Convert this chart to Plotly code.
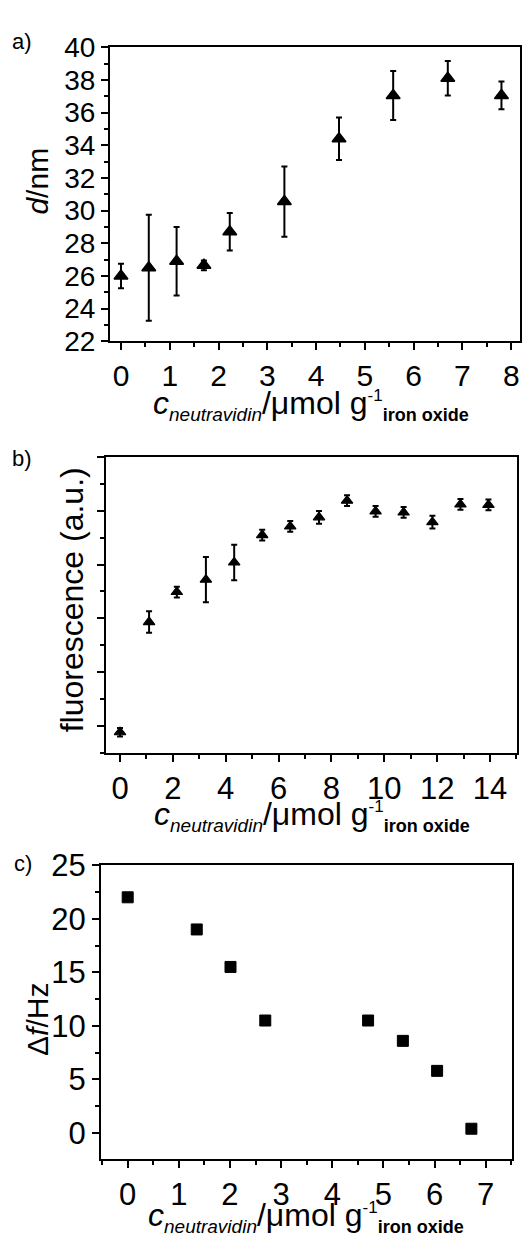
import plotly.graph_objects as go

W, H = 525, 1259
FONT = "Liberation Sans, Arial, Helvetica, sans-serif"

# Panel a: particle diameter
a_x = [0.0, 0.57, 1.14, 1.70, 2.23, 3.35, 4.47, 5.58, 6.70, 7.80]
a_y = [26.0, 26.5, 26.9, 26.65, 28.7, 30.55, 34.4, 37.05, 38.1, 37.05]
a_err = [0.75, 3.25, 2.1, 0.3, 1.15, 2.15, 1.3, 1.5, 1.05, 0.85]

# Panel b: fluorescence (arbitrary units)
b_x = [0.0, 1.1, 2.15, 3.25, 4.32, 5.38, 6.44, 7.53, 8.59, 9.67, 10.73, 11.82, 12.88, 13.94]
b_y = [0.88, 2.93, 3.49, 3.72, 4.04, 4.55, 4.71, 4.88, 5.19, 4.99, 4.97, 4.79, 5.12, 5.11]
b_err = [0.08, 0.2, 0.1, 0.42, 0.33, 0.1, 0.1, 0.12, 0.1, 0.1, 0.1, 0.12, 0.1, 0.1]

# Panel c: QCM frequency shift
c_x = [0.0, 1.35, 2.01, 2.69, 4.70, 5.38, 6.05, 6.72]
c_y = [22.0, 19.0, 15.5, 10.5, 10.5, 8.6, 5.8, 0.4]

a_xticks = [0, 1, 2, 3, 4, 5, 6, 7, 8]
a_yticks = [22, 24, 26, 28, 30, 32, 34, 36, 38, 40]
b_xticks = [0, 2, 4, 6, 8, 10, 12, 14]
b_yticks = [1, 2, 3, 4, 5, 6]
c_xticks = [0, 1, 2, 3, 4, 5, 6, 7]
c_yticks = [0, 5, 10, 15, 20, 25]

XTITLE = ("<i>c</i><sub><span style='font-size:19px'><i>neutravidin</i></span></sub>"
          "/\u03bcmol g<sup><span style='font-size:17px'>-1</span></sup>"
          "<sub><span style='font-size:18px'><b>iron oxide</b></span></sub>")


def px_x(p):
    return p / W


def px_y(p):
    return 1 - p / H


fig = go.Figure()

fig.add_trace(go.Scatter(
    x=a_x, y=a_y, mode="markers", xaxis="x", yaxis="y",
    marker=dict(symbol="triangle-up", size=12, color="black", line=dict(color="black", width=1.5)),
    error_y=dict(type="data", array=a_err, color="black", thickness=2, width=3),
    showlegend=False))

fig.add_trace(go.Scatter(
    x=b_x, y=b_y, mode="markers", xaxis="x2", yaxis="y2",
    marker=dict(symbol="triangle-up", size=10, color="black", line=dict(color="black", width=1.2)),
    error_y=dict(type="data", array=b_err, color="black", thickness=2, width=3),
    showlegend=False))

fig.add_trace(go.Scatter(
    x=c_x, y=c_y, mode="markers", xaxis="x3", yaxis="y3",
    marker=dict(symbol="square", size=11, color="black", line=dict(color="black", width=1)),
    showlegend=False))


def axis(domain, rng, tickvals, minor_dtick, fsize, anchor, showlabels=True):
    return dict(
        domain=domain, range=rng, anchor=anchor,
        tickmode="array", tickvals=tickvals,
        showline=True, mirror=True, linecolor="black", linewidth=2,
        ticks="outside", ticklen=7, tickwidth=2, tickcolor="black",
        showgrid=False, zeroline=False, showticklabels=showlabels,
        tickfont=dict(family=FONT, size=fsize, color="black"),
        minor=dict(ticks="outside", ticklen=4, tickwidth=1.5, tickcolor="black",
                   dtick=minor_dtick, tick0=0, showgrid=False),
    )


fig.update_layout(
    width=W, height=H, margin=dict(l=0, r=0, t=0, b=0),
    paper_bgcolor="white", plot_bgcolor="white",
    font=dict(family=FONT, color="black"),
    xaxis=axis([px_x(110), px_x(520)], [-0.225, 8.18], a_xticks, 0.5, 30, "y"),
    yaxis=axis([px_y(333), px_y(31)], [22, 40], a_yticks, 1, 28, "x"),
    xaxis2=axis([px_x(106), px_x(517)], [-0.53, 15.02], b_xticks, 1, 31, "y2"),
    yaxis2=axis([px_y(756), px_y(452)], [0.49, 6.0], b_yticks, 0.5, 20, "x2", showlabels=False),
    xaxis3=axis([px_x(101), px_x(512)], [-0.522, 7.514], c_xticks, 0.5, 31, "y3"),
    yaxis3=axis([px_y(1173), px_y(871)], [-2.45, 25], c_yticks, 2.5, 31, "x3"),
)

ann = []


def add_text(text, xp, yp, size, angle=0, xanchor="center", yanchor="middle"):
    ann.append(dict(text=text, x=px_x(xp), y=px_y(yp), xref="paper", yref="paper",
                    showarrow=False, textangle=angle, xanchor=xanchor, yanchor=yanchor,
                    font=dict(family=FONT, size=size, color="black")))


# panel labels
add_text("a)", 22, 25, 22)
add_text("b)", 22, 453, 22)
add_text("c)", 23, 869, 22)

# x titles
add_text(XTITLE, 311, 398, 32)
add_text(XTITLE, 312, 821, 32)
add_text(XTITLE, 306, 1232, 32)

# y titles
add_text("<i>d</i>/nm", 38, 169, 30, angle=-90)
add_text("fluorescence (a.u.)", 72, 599, 32, angle=-90)
add_text("\u0394<i>f</i>/Hz", 37, 1030, 30, angle=-90)

fig.update_layout(annotations=ann)

fig.write_html("out.html", config={"displayModeBar": False},
               post_script="document.body.style.margin='0';")
